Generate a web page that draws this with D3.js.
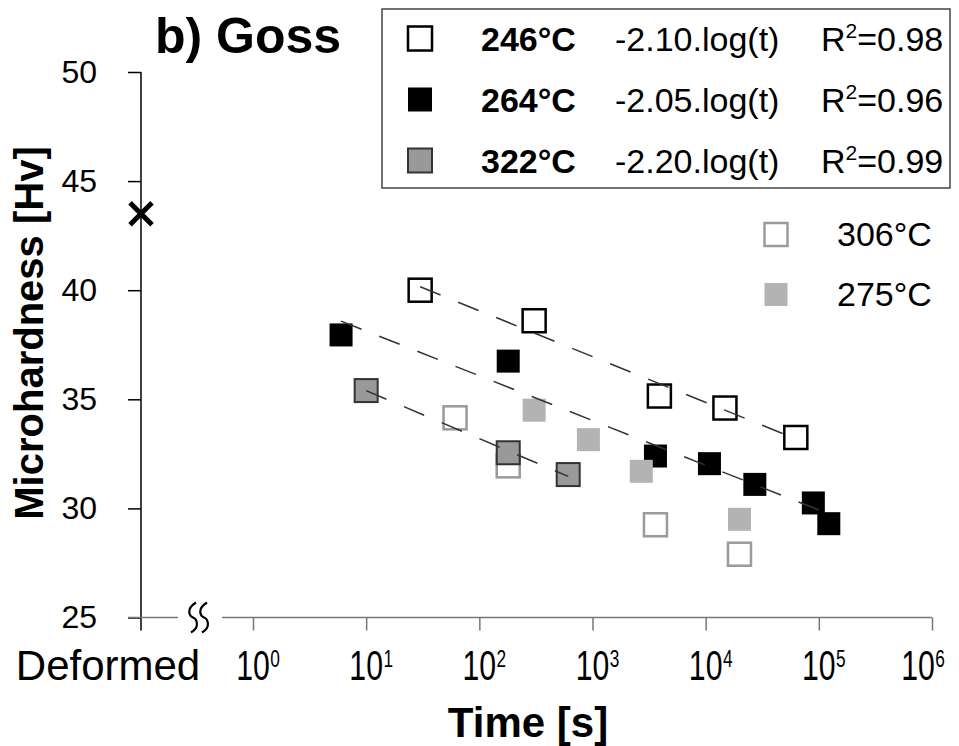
<!DOCTYPE html>
<html>
<head>
<meta charset="utf-8">
<script src="https://cdn.jsdelivr.net/npm/d3@7"></script>
<style>
  body { margin: 0; background: #fff; }
  text { font-family: "Liberation Sans", Arial, sans-serif; }
</style>
</head>
<body>
<div id="chart"></div>
<script>
// Data (time in s, microhardness in Hv)
const times246 = [30, 305, 3900, 14800, 62600];
const hv246 = [40.0, 38.6, 35.15, 34.6, 33.25];
const times264 = [6, 180, 3600, 10800, 27200, 89400, 122500];
const hv264 = [37.95, 36.75, 32.4, 32.05, 31.1, 30.25, 29.3];
const times322 = [10, 180, 610];
const hv322 = [35.4, 32.55, 31.55];
const times306 = [61, 180, 3600, 19900];
const hv306 = [34.15, 31.95, 29.25, 27.9];
const times275 = [305, 920, 2700, 19900];
const hv275 = [34.5, 33.15, 31.7, 29.5];

const fittedSeries = ["246°C", "264°C", "322°C"];
const fitSlopes = [-2.10, -2.05, -2.20];
const fitR2 = ["0.98", "0.96", "0.99"];
const otherSeries = ["306°C", "275°C"];

const deformedHv = 43.5;
const yTicks = [25, 30, 35, 40, 45, 50];
const xTickExponents = [0, 1, 2, 3, 4, 5, 6];

(function () {

  const W = 959
  const H = 746
  const font = '"Liberation Sans", Arial, sans-serif'

  // Plot area
  const margin = { top: 72, right: 27, bottom: 128.5, left: 141 }
  const xLogStart = 253   // where 10^0 sits; "Deformed" sits on the y axis
  const xDeformed = margin.left

  const svg = d3.select("#chart").append("svg")
      .attr("width", W)
      .attr("height", H)

  const x = d3.scaleLog()
    .domain([1, 1e6])
    .range([xLogStart, W - margin.right])

  const y = d3.scaleLinear()
    .domain([25, 50])
    .range([H - margin.bottom, margin.top])

  const series = {
    "246°C": { t: times246, hv: hv246, fill: "#fff", stroke: "#000", sw: 2.5 },
    "264°C": { t: times264, hv: hv264, fill: "#000", stroke: "#000", sw: 0 },
    "322°C": { t: times322, hv: hv322, fill: "#999", stroke: "#333", sw: 2 },
    "306°C": { t: times306, hv: hv306, fill: "#fff", stroke: "#9a9a9a", sw: 2.5 },
    "275°C": { t: times275, hv: hv275, fill: "#b3b3b3", stroke: "none", sw: 0 }
  }
  const drawOrder = ["306°C", "246°C", "264°C", "275°C", "322°C"]
  const size = 23

  // Y axis
  const yAxis = svg.append("g")
    .attr("transform", `translate(${xDeformed},0)`)
    .call(d3.axisLeft(y).tickValues(yTicks).tickSize(13).tickSizeOuter(0).tickPadding(31))
  yAxis.attr("font-family", font).attr("font-size", 32)
  yAxis.select(".domain").remove()
  yAxis.selectAll("line").attr("stroke", "#000").attr("stroke-width", 1.5)
  yAxis.selectAll("text").attr("fill", "#000")

  svg.append("line")
    .attr("x1", xDeformed).attr("x2", xDeformed)
    .attr("y1", y(50)).attr("y2", y(25) + 13)
    .attr("stroke", "#000").attr("stroke-width", 1.5)

  // X axis, broken between "Deformed" and 10^0
  const xAxis = svg.append("g")
    .attr("transform", `translate(0,${y(25)})`)
    .call(d3.axisBottom(x).tickValues(xTickExponents.map(e => Math.pow(10, e))).tickSize(13).tickFormat(""))
  xAxis.select(".domain").remove()
  xAxis.selectAll("line").attr("stroke", "#777").attr("stroke-width", 1.5)

  svg.append("line")
    .attr("x1", xDeformed - 13).attr("x2", 178)
    .attr("y1", y(25)).attr("y2", y(25))
    .attr("stroke", "#777").attr("stroke-width", 1.5)
  svg.append("line")
    .attr("x1", 222).attr("x2", x(1e6))
    .attr("y1", y(25)).attr("y2", y(25))
    .attr("stroke", "#777").attr("stroke-width", 1.5)

  // break mark
  const y0 = y(25)
  ;[193, 204].forEach(cx => {
    svg.append("path")
      .attr("d", `M${cx + 3},${y0 - 15} C${cx - 8},${y0 - 8} ${cx - 3},${y0 - 1} ${cx},${y0} S${cx + 8},${y0 + 9} ${cx - 2},${y0 + 15}`)
      .attr("fill", "none").attr("stroke", "#000").attr("stroke-width", 2.2)
  })

  // X tick labels (narrow glyphs, as in the figure); last one pulled inside
  const xLabels = svg.append("g").attr("font-family", font)
  xTickExponents.forEach((e, i) => {
    const shift = i === xTickExponents.length - 1 ? -14 : 0
    const g = xLabels.append("g")
      .attr("transform", `translate(${x(Math.pow(10, e)) + shift},680) scale(0.72,1)`)
    g.append("text")
      .attr("text-anchor", "middle")
      .attr("font-size", 42)
      .text("10")
    g.append("text")
      .attr("x", 24)
      .attr("y", -13)
      .attr("font-size", 24)
      .text(e)
  })

  svg.append("text")
    .attr("x", 108)
    .attr("y", 680)
    .attr("text-anchor", "middle")
    .attr("font-size", 42)
    .text("Deformed")

  // Axis titles
  svg.append("text")
    .attr("x", 528)
    .attr("y", 737)
    .attr("text-anchor", "middle")
    .attr("font-size", 42)
    .attr("font-weight", "bold")
    .text("Time [s]")

  svg.append("text")
    .attr("transform", "translate(43,333) rotate(-90)")
    .attr("text-anchor", "middle")
    .attr("font-size", 40)
    .attr("font-weight", "bold")
    .text("Microhardness [Hv]")

  svg.append("text")
    .attr("x", 155)
    .attr("y", 53)
    .attr("font-size", 50)
    .attr("font-weight", "bold")
    .text("b) Goss")

  // Deformed state marker
  const dx = xDeformed, dy = y(deformedHv)
  svg.append("path")
    .attr("d", `M${dx - 11},${dy - 11}L${dx + 11},${dy + 11}M${dx - 11},${dy + 11}L${dx + 11},${dy - 11}`)
    .attr("stroke", "#000").attr("stroke-width", 5)

  // Points
  drawOrder.forEach(name => {
    const s = series[name]
    const pts = s.t.map((t, i) => ({ t: t, hv: s.hv[i] }))
    svg.append("g").selectAll("rect")
      .data(pts)
      .join("rect")
      .attr("x", d => x(d.t) - size / 2)
      .attr("y", d => y(d.hv) - size / 2)
      .attr("width", size)
      .attr("height", size)
      .attr("fill", s.fill)
      .attr("stroke", s.stroke)
      .attr("stroke-width", s.sw)
  })

  // Fit lines: given slope, intercept by least squares
  fittedSeries.forEach((name, i) => {
    const s = series[name]
    const b = fitSlopes[i]
    const meanLog = d3.mean(s.t, t => Math.log10(t))
    const a = d3.mean(s.hv) - b * meanLog
    const ends = d3.extent(s.t)
    svg.append("path")
      .datum(ends)
      .attr("d", d3.line().x(t => x(t)).y(t => y(a + b * Math.log10(t))))
      .attr("fill", "none")
      .attr("stroke", "#333")
      .attr("stroke-width", 1.5)
      .attr("stroke-dasharray", "22,19")
  })

  // Legend box
  const leg = svg.append("g").attr("font-family", font).attr("font-size", 34)
  leg.append("rect")
    .attr("x", 382).attr("y", 9)
    .attr("width", 568).attr("height", 179)
    .attr("fill", "#fff")
    .attr("stroke", "#444").attr("stroke-width", 1.5)

  fittedSeries.forEach((name, i) => {
    const s = series[name]
    const cy = 38.5 + i * 61
    leg.append("rect")
      .attr("x", 420 - 12).attr("y", cy - 12)
      .attr("width", 24).attr("height", 24)
      .attr("fill", s.fill)
      .attr("stroke", s.stroke)
      .attr("stroke-width", s.sw)
    leg.append("text")
      .attr("x", 481).attr("y", cy + 12)
      .attr("font-weight", "bold")
      .text(name)
    leg.append("text")
      .attr("x", 615).attr("y", cy + 12)
      .text(fitSlopes[i].toFixed(2) + ".log(t)")
    const r = leg.append("text")
      .attr("x", 821).attr("y", cy + 12)
    r.append("tspan").text("R")
    r.append("tspan").attr("font-size", 21).attr("dy", -13).text("2")
    r.append("tspan").attr("dy", 13).text("=" + fitR2[i])
  })

  otherSeries.forEach((name, i) => {
    const s = series[name]
    const cy = 234.5 + i * 60
    leg.append("rect")
      .attr("x", 776 - 11.5).attr("y", cy - 11.5)
      .attr("width", 23).attr("height", 23)
      .attr("fill", s.fill)
      .attr("stroke", s.stroke)
      .attr("stroke-width", s.sw)
    leg.append("text")
      .attr("x", 837).attr("y", cy + 11)
      .text(name)
  })

})();
</script>
</body>
</html>
